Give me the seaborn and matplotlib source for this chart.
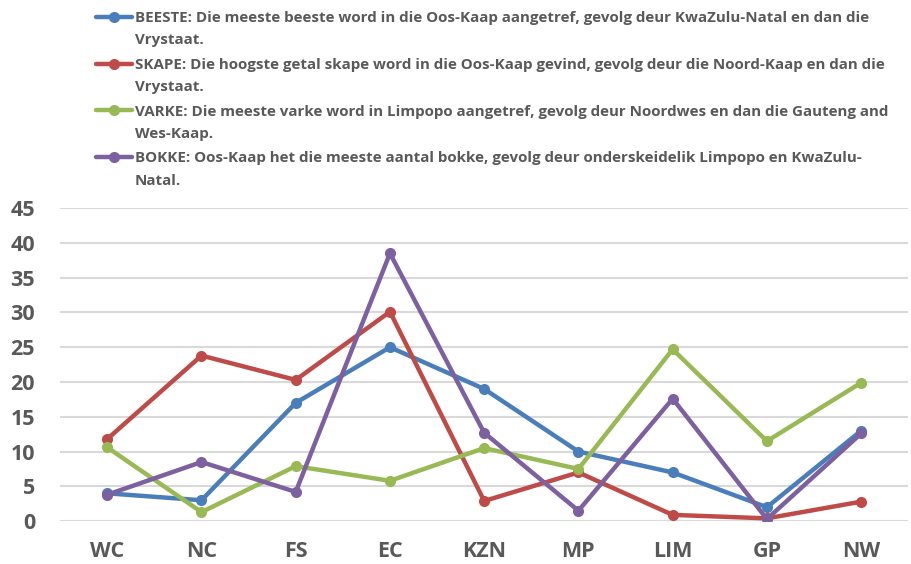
import pandas as pd
import matplotlib.pyplot as plt
import seaborn as sns
from matplotlib.legend_handler import HandlerLine2D

provinces = ["WC", "NC", "FS", "EC", "KZN", "MP", "LIM", "GP", "NW"]
beeste = [4, 3, 17, 25, 19, 10, 7, 2, 13]
skape = [11.8, 23.8, 20.3, 30.1, 2.9, 7, 0.9, 0.4, 2.8]
varke = [10.6, 1.3, 7.9, 5.8, 10.5, 7.5, 24.7, 11.5, 19.9]
bokke = [3.8, 8.5, 4.2, 38.5, 12.7, 1.5, 17.6, 0.3, 12.6]

labels = [
    "BEESTE: Die meeste beeste word in die Oos-Kaap aangetref, gevolg deur KwaZulu-Natal en dan die\nVrystaat.",
    "SKAPE: Die hoogste getal skape word in die Oos-Kaap gevind, gevolg deur die Noord-Kaap en dan die\nVrystaat.",
    "VARKE: Die meeste varke word in Limpopo aangetref, gevolg deur Noordwes en dan die Gauteng and\nWes-Kaap.",
    "BOKKE: Oos-Kaap het die meeste aantal bokke, gevolg deur onderskeidelik Limpopo en KwaZulu-\nNatal.",
]
colors = ["#4A7EBB", "#BE4B48", "#98B954", "#7D60A0"]

rows = []
for lab, vals in zip(labels, [beeste, skape, varke, bokke]):
    for p, v in zip(provinces, vals):
        rows.append({"prov": p, "val": v, "reeks": lab})
df = pd.DataFrame(rows)

sns.set_style("white")
plt.rcParams['font.family'] = ['Open Sans', 'DejaVu Sans']

LEG_FS = 10.9


# legend marker next to the first line of a two-line label
class TopLine(HandlerLine2D):
    def create_artists(self, legend, orig_handle, xdescent, ydescent, width, height, fontsize, trans):
        arts = super().create_artists(legend, orig_handle, xdescent, ydescent, width, height, fontsize, trans)
        for a in arts:
            a.set_ydata([y + 0.83 * fontsize for y in a.get_ydata()])
        return arts


fig = plt.figure(figsize=(9.11, 5.64), dpi=100)
ax = fig.add_axes([0.066, 0.076, 0.931, 0.555])

sns.lineplot(data=df, x="prov", y="val", hue="reeks", palette=colors, sort=False,
             marker="o", markersize=8, markeredgewidth=0, linewidth=3.2, ax=ax)

ax.set_xlim(-0.5, 8.5)
ax.set_ylim(0, 45)
ax.set_yticks(range(0, 46, 5))
ax.yaxis.grid(True, color="#D9D9D9", linewidth=1.5)
ax.set_axisbelow(True)
for s in ax.spines.values():
    s.set_visible(False)
ax.set_xlabel("")
ax.set_ylabel("")
ax.tick_params(axis="y", length=0, pad=18, labelsize=15.5, labelcolor="#595959")
ax.tick_params(axis="x", length=0, pad=14, labelsize=15.5, labelcolor="#595959")
for t in ax.get_xticklabels() + ax.get_yticklabels():
    t.set_fontweight("bold")

handles, labs = ax.get_legend_handles_labels()
ax.legend_.remove()
leg = fig.legend(handles, labs, loc="upper left", bbox_to_anchor=(0.09, 1.005),
                 frameon=False, handlelength=2.4, handletextpad=0.2,
                 labelspacing=0.68, prop={"weight": "bold", "size": LEG_FS},
                 handler_map={h: TopLine() for h in handles})
for t in leg.get_texts():
    t.set_color("#595959")
    t.set_linespacing(1.78)

fig.savefig("out.png", dpi=100)
